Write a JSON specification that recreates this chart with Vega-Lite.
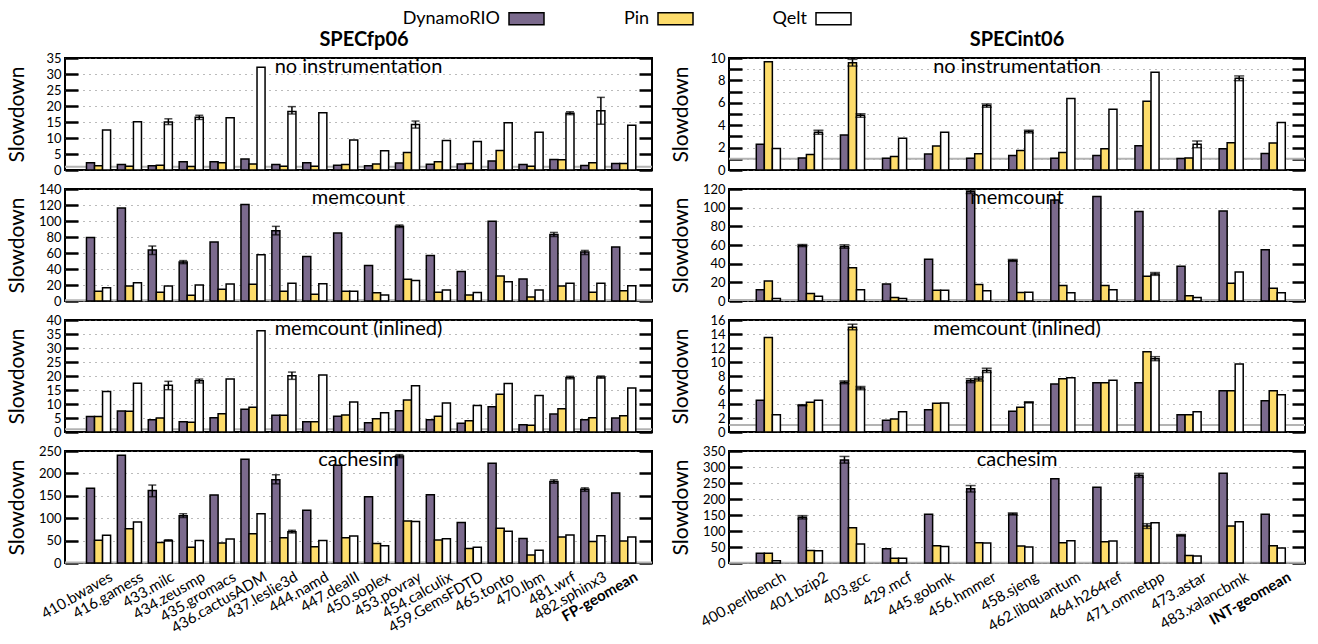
{
"$schema": "https://vega.github.io/schema/vega-lite/v6.json",
"padding": {"left": 5, "right": 5, "top": 0, "bottom": 0},
"config": {
  "font": "Lato",
  "view": {"stroke": "black", "strokeWidth": 2},
  "axis": {"labelColor": "black", "titleColor": "black", "labelFontSize": 13, "tickColor": "black", "tickWidth": 2.5, "tickSize": -13, "domain": false, "gridDash": [1, 5], "gridColor": "#777", "titleFontWeight": "normal", "titleFontSize": 21},
  "title": {"fontSize": 20, "fontWeight": "normal", "anchor": "middle", "frame": "group", "offset": -25, "baseline": "middle", "color": "black"},
  "legend": {"symbolStrokeColor": "black", "symbolStrokeWidth": 1.5, "labelFontSize": 18, "labelColor": "black", "padding": 0}
},
"datasets": {
  "fp": [
    {"panel":"a","bench":"410.bwaves","DynamoRIO":2.3,"Pin":1.3,"Qelt":12.5},
    {"panel":"a","bench":"416.gamess","DynamoRIO":1.7,"Pin":1.2,"Qelt":15.1},
    {"panel":"a","bench":"433.milc","DynamoRIO":1.3,"Pin":1.5,"Qelt":15.0},
    {"panel":"a","bench":"434.zeusmp","DynamoRIO":2.6,"Pin":1.1,"Qelt":16.5},
    {"panel":"a","bench":"435.gromacs","DynamoRIO":2.6,"Pin":2.3,"Qelt":16.3},
    {"panel":"a","bench":"436.cactusADM","DynamoRIO":3.4,"Pin":1.9,"Qelt":32.1},
    {"panel":"a","bench":"437.leslie3d","DynamoRIO":1.7,"Pin":1.2,"Qelt":18.3},
    {"panel":"a","bench":"444.namd","DynamoRIO":2.3,"Pin":1.2,"Qelt":17.9},
    {"panel":"a","bench":"447.dealII","DynamoRIO":1.5,"Pin":1.7,"Qelt":9.4},
    {"panel":"a","bench":"450.soplex","DynamoRIO":1.3,"Pin":1.9,"Qelt":6.0},
    {"panel":"a","bench":"453.povray","DynamoRIO":2.2,"Pin":5.5,"Qelt":14.2},
    {"panel":"a","bench":"454.calculix","DynamoRIO":1.8,"Pin":2.6,"Qelt":9.2},
    {"panel":"a","bench":"459.GemsFDTD","DynamoRIO":1.9,"Pin":2.0,"Qelt":8.9},
    {"panel":"a","bench":"465.tonto","DynamoRIO":2.8,"Pin":6.1,"Qelt":14.8},
    {"panel":"a","bench":"470.lbm","DynamoRIO":1.7,"Pin":1.2,"Qelt":11.8},
    {"panel":"a","bench":"481.wrf","DynamoRIO":3.3,"Pin":3.2,"Qelt":17.7},
    {"panel":"a","bench":"482.sphinx3","DynamoRIO":1.4,"Pin":2.3,"Qelt":18.5},
    {"panel":"a","bench":"FP-geomean","DynamoRIO":2.0,"Pin":2.0,"Qelt":14.0},
    {"panel":"b","bench":"410.bwaves","DynamoRIO":79.3,"Pin":12.3,"Qelt":16.5},
    {"panel":"b","bench":"416.gamess","DynamoRIO":116.3,"Pin":18.7,"Qelt":22.9},
    {"panel":"b","bench":"433.milc","DynamoRIO":63.6,"Pin":11.0,"Qelt":18.7},
    {"panel":"b","bench":"434.zeusmp","DynamoRIO":48.8,"Pin":7.2,"Qelt":19.9},
    {"panel":"b","bench":"435.gromacs","DynamoRIO":73.8,"Pin":14.8,"Qelt":21.2},
    {"panel":"b","bench":"436.cactusADM","DynamoRIO":120.5,"Pin":20.8,"Qelt":57.7},
    {"panel":"b","bench":"437.leslie3d","DynamoRIO":87.8,"Pin":12.3,"Qelt":22.1},
    {"panel":"b","bench":"444.namd","DynamoRIO":55.6,"Pin":8.5,"Qelt":21.6},
    {"panel":"b","bench":"447.dealII","DynamoRIO":84.9,"Pin":12.3,"Qelt":12.3},
    {"panel":"b","bench":"450.soplex","DynamoRIO":44.5,"Pin":10.2,"Qelt":7.6},
    {"panel":"b","bench":"453.povray","DynamoRIO":93.3,"Pin":27.2,"Qelt":25.5},
    {"panel":"b","bench":"454.calculix","DynamoRIO":56.9,"Pin":11.0,"Qelt":13.6},
    {"panel":"b","bench":"459.GemsFDTD","DynamoRIO":36.9,"Pin":7.6,"Qelt":10.6},
    {"panel":"b","bench":"465.tonto","DynamoRIO":99.7,"Pin":31.4,"Qelt":24.2},
    {"panel":"b","bench":"470.lbm","DynamoRIO":27.6,"Pin":5.1,"Qelt":13.6},
    {"panel":"b","bench":"481.wrf","DynamoRIO":83.2,"Pin":18.7,"Qelt":22.1},
    {"panel":"b","bench":"482.sphinx3","DynamoRIO":61.1,"Pin":11.0,"Qelt":22.1},
    {"panel":"b","bench":"FP-geomean","DynamoRIO":67.5,"Pin":12.7,"Qelt":19.1},
    {"panel":"c","bench":"410.bwaves","DynamoRIO":5.5,"Pin":5.5,"Qelt":14.5},
    {"panel":"c","bench":"416.gamess","DynamoRIO":7.5,"Pin":7.4,"Qelt":17.4},
    {"panel":"c","bench":"433.milc","DynamoRIO":4.4,"Pin":5.0,"Qelt":16.7},
    {"panel":"c","bench":"434.zeusmp","DynamoRIO":3.7,"Pin":3.5,"Qelt":18.3},
    {"panel":"c","bench":"435.gromacs","DynamoRIO":5.1,"Pin":6.5,"Qelt":18.9},
    {"panel":"c","bench":"436.cactusADM","DynamoRIO":8.1,"Pin":8.8,"Qelt":36.2},
    {"panel":"c","bench":"437.leslie3d","DynamoRIO":6.0,"Pin":6.0,"Qelt":20.1},
    {"panel":"c","bench":"444.namd","DynamoRIO":3.7,"Pin":3.7,"Qelt":20.4},
    {"panel":"c","bench":"447.dealII","DynamoRIO":5.6,"Pin":6.1,"Qelt":10.7},
    {"panel":"c","bench":"450.soplex","DynamoRIO":3.3,"Pin":4.7,"Qelt":6.9},
    {"panel":"c","bench":"453.povray","DynamoRIO":7.6,"Pin":11.4,"Qelt":16.5},
    {"panel":"c","bench":"454.calculix","DynamoRIO":4.4,"Pin":5.6,"Qelt":10.4},
    {"panel":"c","bench":"459.GemsFDTD","DynamoRIO":3.1,"Pin":4.0,"Qelt":9.5},
    {"panel":"c","bench":"465.tonto","DynamoRIO":9.0,"Pin":13.5,"Qelt":17.3},
    {"panel":"c","bench":"470.lbm","DynamoRIO":2.6,"Pin":2.4,"Qelt":13.0},
    {"panel":"c","bench":"481.wrf","DynamoRIO":6.4,"Pin":8.3,"Qelt":19.5},
    {"panel":"c","bench":"482.sphinx3","DynamoRIO":4.4,"Pin":5.1,"Qelt":19.6},
    {"panel":"c","bench":"FP-geomean","DynamoRIO":5.0,"Pin":5.8,"Qelt":15.7},
    {"panel":"d","bench":"410.bwaves","DynamoRIO":167,"Pin":51,"Qelt":62},
    {"panel":"d","bench":"416.gamess","DynamoRIO":240.6,"Pin":76.7,"Qelt":91.7},
    {"panel":"d","bench":"433.milc","DynamoRIO":161.7,"Pin":45.9,"Qelt":50.4},
    {"panel":"d","bench":"434.zeusmp","DynamoRIO":105.3,"Pin":35.3,"Qelt":50.4},
    {"panel":"d","bench":"435.gromacs","DynamoRIO":151.9,"Pin":44.4,"Qelt":53.4},
    {"panel":"d","bench":"436.cactusADM","DynamoRIO":231.6,"Pin":65.4,"Qelt":109.8},
    {"panel":"d","bench":"437.leslie3d","DynamoRIO":185.7,"Pin":56.4,"Qelt":70},
    {"panel":"d","bench":"444.namd","DynamoRIO":118,"Pin":36.1,"Qelt":50.4},
    {"panel":"d","bench":"447.dealII","DynamoRIO":218,"Pin":56.4,"Qelt":60.2},
    {"panel":"d","bench":"450.soplex","DynamoRIO":148,"Pin":43.6,"Qelt":38.3},
    {"panel":"d","bench":"453.povray","DynamoRIO":239,"Pin":94,"Qelt":92.5},
    {"panel":"d","bench":"454.calculix","DynamoRIO":152.6,"Pin":51.1,"Qelt":54.1},
    {"panel":"d","bench":"459.GemsFDTD","DynamoRIO":90.2,"Pin":32.3,"Qelt":35.3},
    {"panel":"d","bench":"465.tonto","DynamoRIO":222.6,"Pin":77.4,"Qelt":70.7},
    {"panel":"d","bench":"470.lbm","DynamoRIO":54.9,"Pin":18,"Qelt":28.6},
    {"panel":"d","bench":"481.wrf","DynamoRIO":182,"Pin":57.9,"Qelt":62.4},
    {"panel":"d","bench":"482.sphinx3","DynamoRIO":164.7,"Pin":48.1,"Qelt":60.9},
    {"panel":"d","bench":"FP-geomean","DynamoRIO":156.4,"Pin":48.9,"Qelt":57.9}
  ],
  "fpe": [
    {"panel":"a","bench":"433.milc","tool":"Qelt","lo":14.2,"hi":16.0},
    {"panel":"a","bench":"434.zeusmp","tool":"Qelt","lo":15.8,"hi":17.1},
    {"panel":"a","bench":"437.leslie3d","tool":"Qelt","lo":17.5,"hi":19.8},
    {"panel":"a","bench":"453.povray","tool":"Qelt","lo":13.1,"hi":15.3},
    {"panel":"a","bench":"481.wrf","tool":"Qelt","lo":17.3,"hi":18.2},
    {"panel":"a","bench":"482.sphinx3","tool":"Qelt","lo":14.3,"hi":22.7},
    {"panel":"b","bench":"433.milc","tool":"DynamoRIO","lo":58.1,"hi":68.7},
    {"panel":"b","bench":"434.zeusmp","tool":"DynamoRIO","lo":46.7,"hi":50.5},
    {"panel":"b","bench":"437.leslie3d","tool":"DynamoRIO","lo":82.7,"hi":93.3},
    {"panel":"b","bench":"453.povray","tool":"DynamoRIO","lo":92,"hi":95},
    {"panel":"b","bench":"481.wrf","tool":"DynamoRIO","lo":80.6,"hi":85.7},
    {"panel":"b","bench":"482.sphinx3","tool":"DynamoRIO","lo":58.1,"hi":63.2},
    {"panel":"c","bench":"433.milc","tool":"Qelt","lo":15.1,"hi":18.1},
    {"panel":"c","bench":"434.zeusmp","tool":"Qelt","lo":17.5,"hi":18.9},
    {"panel":"c","bench":"437.leslie3d","tool":"Qelt","lo":18.8,"hi":21.4},
    {"panel":"c","bench":"481.wrf","tool":"Qelt","lo":19.0,"hi":19.9},
    {"panel":"c","bench":"482.sphinx3","tool":"Qelt","lo":19.2,"hi":20.0},
    {"panel":"d","bench":"433.milc","tool":"DynamoRIO","lo":148,"hi":174},
    {"panel":"d","bench":"433.milc","tool":"Qelt","lo":48.9,"hi":51.9},
    {"panel":"d","bench":"434.zeusmp","tool":"DynamoRIO","lo":101.5,"hi":110},
    {"panel":"d","bench":"437.leslie3d","tool":"DynamoRIO","lo":176.7,"hi":197},
    {"panel":"d","bench":"437.leslie3d","tool":"Qelt","lo":67,"hi":73},
    {"panel":"d","bench":"453.povray","tool":"DynamoRIO","lo":235,"hi":242},
    {"panel":"d","bench":"481.wrf","tool":"DynamoRIO","lo":178,"hi":185.7},
    {"panel":"d","bench":"482.sphinx3","tool":"DynamoRIO","lo":160,"hi":167.7}
  ],
  "int": [
    {"panel":"a","bench":"400.perlbench","DynamoRIO":2.3,"Pin":9.67,"Qelt":1.93},
    {"panel":"a","bench":"401.bzip2","DynamoRIO":1.08,"Pin":1.39,"Qelt":3.37},
    {"panel":"a","bench":"403.gcc","DynamoRIO":3.13,"Pin":9.58,"Qelt":4.88},
    {"panel":"a","bench":"429.mcf","DynamoRIO":1.05,"Pin":1.2,"Qelt":2.83},
    {"panel":"a","bench":"445.gobmk","DynamoRIO":1.42,"Pin":2.14,"Qelt":3.37},
    {"panel":"a","bench":"456.hmmer","DynamoRIO":1.05,"Pin":1.45,"Qelt":5.75},
    {"panel":"a","bench":"458.sjeng","DynamoRIO":1.3,"Pin":1.75,"Qelt":3.43},
    {"panel":"a","bench":"462.libquantum","DynamoRIO":1.05,"Pin":1.57,"Qelt":6.39},
    {"panel":"a","bench":"464.h264ref","DynamoRIO":1.3,"Pin":1.9,"Qelt":5.42},
    {"panel":"a","bench":"471.omnetpp","DynamoRIO":2.17,"Pin":6.14,"Qelt":8.73},
    {"panel":"a","bench":"473.astar","DynamoRIO":1.02,"Pin":1.08,"Qelt":2.29},
    {"panel":"a","bench":"483.xalancbmk","DynamoRIO":1.9,"Pin":2.44,"Qelt":8.19},
    {"panel":"a","bench":"INT-geomean","DynamoRIO":1.48,"Pin":2.41,"Qelt":4.25},
    {"panel":"b","bench":"400.perlbench","DynamoRIO":12.1,"Pin":21.3,"Qelt":2.6},
    {"panel":"b","bench":"401.bzip2","DynamoRIO":59.4,"Pin":8.1,"Qelt":5.1},
    {"panel":"b","bench":"403.gcc","DynamoRIO":58.3,"Pin":35.6,"Qelt":12.1},
    {"panel":"b","bench":"429.mcf","DynamoRIO":18.3,"Pin":3.7,"Qelt":2.6},
    {"panel":"b","bench":"445.gobmk","DynamoRIO":44.8,"Pin":11.4,"Qelt":11.4},
    {"panel":"b","bench":"456.hmmer","DynamoRIO":117.4,"Pin":17.6,"Qelt":11.0},
    {"panel":"b","bench":"458.sjeng","DynamoRIO":43.3,"Pin":9.2,"Qelt":9.5},
    {"panel":"b","bench":"462.libquantum","DynamoRIO":108.3,"Pin":16.5,"Qelt":8.8},
    {"panel":"b","bench":"464.h264ref","DynamoRIO":111.9,"Pin":16.5,"Qelt":12.1},
    {"panel":"b","bench":"471.omnetpp","DynamoRIO":95.8,"Pin":26.4,"Qelt":29.0},
    {"panel":"b","bench":"473.astar","DynamoRIO":37.1,"Pin":5.5,"Qelt":3.7},
    {"panel":"b","bench":"483.xalancbmk","DynamoRIO":96.5,"Pin":19.1,"Qelt":31.2},
    {"panel":"b","bench":"INT-geomean","DynamoRIO":55.0,"Pin":13.6,"Qelt":8.8},
    {"panel":"c","bench":"400.perlbench","DynamoRIO":4.52,"Pin":13.5,"Qelt":2.48},
    {"panel":"c","bench":"401.bzip2","DynamoRIO":3.81,"Pin":4.24,"Qelt":4.52},
    {"panel":"c","bench":"403.gcc","DynamoRIO":7.1,"Pin":14.95,"Qelt":6.29},
    {"panel":"c","bench":"429.mcf","DynamoRIO":1.67,"Pin":1.86,"Qelt":2.9},
    {"panel":"c","bench":"445.gobmk","DynamoRIO":3.19,"Pin":4.1,"Qelt":4.14},
    {"panel":"c","bench":"456.hmmer","DynamoRIO":7.33,"Pin":7.57,"Qelt":8.8},
    {"panel":"c","bench":"458.sjeng","DynamoRIO":2.95,"Pin":3.52,"Qelt":4.24},
    {"panel":"c","bench":"462.libquantum","DynamoRIO":6.86,"Pin":7.62,"Qelt":7.76},
    {"panel":"c","bench":"464.h264ref","DynamoRIO":7.05,"Pin":7.05,"Qelt":7.38},
    {"panel":"c","bench":"471.omnetpp","DynamoRIO":7.05,"Pin":11.48,"Qelt":10.48},
    {"panel":"c","bench":"473.astar","DynamoRIO":2.48,"Pin":2.48,"Qelt":2.9},
    {"panel":"c","bench":"483.xalancbmk","DynamoRIO":5.9,"Pin":5.9,"Qelt":9.71},
    {"panel":"c","bench":"INT-geomean","DynamoRIO":4.48,"Pin":5.9,"Qelt":5.33},
    {"panel":"d","bench":"400.perlbench","DynamoRIO":30.7,"Pin":30.7,"Qelt":7.4},
    {"panel":"d","bench":"401.bzip2","DynamoRIO":142.9,"Pin":39.2,"Qelt":38.1},
    {"panel":"d","bench":"403.gcc","DynamoRIO":321.7,"Pin":110,"Qelt":59.3},
    {"panel":"d","bench":"429.mcf","DynamoRIO":44.4,"Pin":14.8,"Qelt":14.8},
    {"panel":"d","bench":"445.gobmk","DynamoRIO":152.4,"Pin":54,"Qelt":51.9},
    {"panel":"d","bench":"456.hmmer","DynamoRIO":231.7,"Pin":63.5,"Qelt":62.4},
    {"panel":"d","bench":"458.sjeng","DynamoRIO":153.4,"Pin":52.9,"Qelt":49.7},
    {"panel":"d","bench":"462.libquantum","DynamoRIO":263.5,"Pin":63.5,"Qelt":69.8},
    {"panel":"d","bench":"464.h264ref","DynamoRIO":237,"Pin":66.7,"Qelt":68.8},
    {"panel":"d","bench":"471.omnetpp","DynamoRIO":274,"Pin":115.3,"Qelt":125.9},
    {"panel":"d","bench":"473.astar","DynamoRIO":86.8,"Pin":23.3,"Qelt":22.2},
    {"panel":"d","bench":"483.xalancbmk","DynamoRIO":280.4,"Pin":115.3,"Qelt":129},
    {"panel":"d","bench":"INT-geomean","DynamoRIO":152.4,"Pin":54,"Qelt":46.6}
  ],
  "inte": [
    {"panel":"a","bench":"401.bzip2","tool":"Qelt","lo":3.19,"hi":3.55},
    {"panel":"a","bench":"403.gcc","tool":"Pin","lo":9.28,"hi":9.88},
    {"panel":"a","bench":"403.gcc","tool":"Qelt","lo":4.7,"hi":5.03},
    {"panel":"a","bench":"456.hmmer","tool":"Qelt","lo":5.6,"hi":5.9},
    {"panel":"a","bench":"458.sjeng","tool":"Qelt","lo":3.31,"hi":3.55},
    {"panel":"a","bench":"473.astar","tool":"Qelt","lo":1.99,"hi":2.59},
    {"panel":"a","bench":"483.xalancbmk","tool":"Qelt","lo":7.98,"hi":8.4},
    {"panel":"b","bench":"401.bzip2","tool":"DynamoRIO","lo":58.3,"hi":60.5},
    {"panel":"b","bench":"403.gcc","tool":"DynamoRIO","lo":56.5,"hi":60.2},
    {"panel":"b","bench":"456.hmmer","tool":"DynamoRIO","lo":115.2,"hi":118.9},
    {"panel":"b","bench":"458.sjeng","tool":"DynamoRIO","lo":42.5,"hi":44.5},
    {"panel":"b","bench":"471.omnetpp","tool":"Qelt","lo":27.5,"hi":30.5},
    {"panel":"c","bench":"401.bzip2","tool":"DynamoRIO","lo":3.75,"hi":3.9},
    {"panel":"c","bench":"403.gcc","tool":"DynamoRIO","lo":6.9,"hi":7.3},
    {"panel":"c","bench":"403.gcc","tool":"Pin","lo":14.6,"hi":15.4},
    {"panel":"c","bench":"403.gcc","tool":"Qelt","lo":6.05,"hi":6.5},
    {"panel":"c","bench":"456.hmmer","tool":"DynamoRIO","lo":7.05,"hi":7.6},
    {"panel":"c","bench":"456.hmmer","tool":"Pin","lo":7.29,"hi":7.86},
    {"panel":"c","bench":"456.hmmer","tool":"Qelt","lo":8.5,"hi":9.1},
    {"panel":"c","bench":"458.sjeng","tool":"Qelt","lo":4.15,"hi":4.3},
    {"panel":"c","bench":"471.omnetpp","tool":"Qelt","lo":10.19,"hi":10.76},
    {"panel":"d","bench":"401.bzip2","tool":"DynamoRIO","lo":137.6,"hi":148},
    {"panel":"d","bench":"403.gcc","tool":"DynamoRIO","lo":312,"hi":333},
    {"panel":"d","bench":"456.hmmer","tool":"DynamoRIO","lo":222,"hi":242},
    {"panel":"d","bench":"458.sjeng","tool":"DynamoRIO","lo":150,"hi":156.6},
    {"panel":"d","bench":"471.omnetpp","tool":"DynamoRIO","lo":267.7,"hi":280},
    {"panel":"d","bench":"471.omnetpp","tool":"Pin","lo":108,"hi":122.8},
    {"panel":"d","bench":"473.astar","tool":"DynamoRIO","lo":84,"hi":89}
  ]
},
"spacing": 14,
"resolve": {"scale": {"x": "independent", "y": "independent", "color": "shared"}},
"hconcat": [
 {
  "title": {"text": "SPECfp06", "fontWeight": "bold", "anchor": "middle", "offset": -19, "baseline": "bottom", "dx": 299},
  "spacing": 4,
  "resolve": {"scale": {"x": "independent", "y": "independent"}},
  "vconcat": [
   {
    "width": 587, "height": 112,
    "title": {"text": "no instrumentation"},
    "resolve": {"axis": {"y": "independent"}},
    "layer": [
     {"data": {"values": [{"one": 1}]}, "mark": {"type": "rule", "color": "#b3b3b3", "strokeWidth": 2},
      "encoding": {"y": {"field": "one", "type": "quantitative", "scale": {"domain": [0, 35], "nice": false},
        "axis": {"orient": "left", "values": [0,5,10,15,20,25,30,35], "title": "Slowdown", "titlePadding": 6, "labelPadding": 17, "grid": true, "minExtent": 32, "maxExtent": 32}}}},
     {"data": {"name": "fp"}, "transform": [{"filter": "datum.panel == 'a'"}, {"fold": ["DynamoRIO", "Pin", "Qelt"], "as": ["tool", "slowdown"]}],
      "mark": {"type": "bar", "stroke": "black", "strokeWidth": 1.5},
      "encoding": {
        "x": {"field": "bench", "type": "nominal", "scale": {"domain": ["410.bwaves","416.gamess","433.milc","434.zeusmp","435.gromacs","436.cactusADM","437.leslie3d","444.namd","447.dealII","450.soplex","453.povray","454.calculix","459.GemsFDTD","465.tonto","470.lbm","481.wrf","482.sphinx3","FP-geomean"], "paddingInner": 0.22, "paddingOuter": 0.61, "align": 0.57}, "axis": null},
        "xOffset": {"field": "tool", "type": "nominal", "scale": {"domain": ["DynamoRIO", "Pin", "Qelt"], "paddingInner": 0, "paddingOuter": 0}},
        "y": {"field": "slowdown", "type": "quantitative", "scale": {"domain": [0, 35], "nice": false}, "axis": {"orient": "right", "values": [0,5,10,15,20,25,30,35], "labels": false, "grid": false, "title": null, "minExtent": 0, "maxExtent": 0}},
        "color": {"field": "tool", "type": "nominal", "scale": {"domain": ["DynamoRIO", "Pin", "Qelt"], "range": ["#7b6a8d", "#fddc6b", "#ffffff"]},
          "legend": {"title": null, "orient": "none", "legendX": 443, "legendY": -58, "direction": "horizontal", "symbolType": "M-1,-0.34H1V0.34H-1Z", "symbolSize": 1225, "labelAlign": "right", "labelOffset": -45, "columnPadding": 76}}
      }},
     {"data": {"name": "fpe"}, "transform": [{"filter": "datum.panel == 'a'"}],
      "mark": {"type": "rule", "color": "black", "strokeWidth": 1.5},
      "encoding": {
        "x": {"field": "bench", "type": "nominal", "scale": {"domain": ["410.bwaves","416.gamess","433.milc","434.zeusmp","435.gromacs","436.cactusADM","437.leslie3d","444.namd","447.dealII","450.soplex","453.povray","454.calculix","459.GemsFDTD","465.tonto","470.lbm","481.wrf","482.sphinx3","FP-geomean"], "paddingInner": 0.22, "paddingOuter": 0.61, "align": 0.57}, "axis": null},
        "xOffset": {"field": "tool", "type": "nominal", "scale": {"domain": ["DynamoRIO", "Pin", "Qelt"], "paddingInner": 0, "paddingOuter": 0}},
        "y": {"field": "lo", "type": "quantitative", "scale": {"domain": [0, 35], "nice": false}, "axis": null},
        "y2": {"field": "hi"}
      }},
     {"data": {"name": "fpe"}, "transform": [{"filter": "datum.panel == 'a'"}, {"fold": ["lo", "hi"], "as": ["k", "ev"]}],
      "mark": {"type": "tick", "color": "black", "thickness": 1.5, "size": 8, "orient": "horizontal"},
      "encoding": {
        "x": {"field": "bench", "type": "nominal", "scale": {"domain": ["410.bwaves","416.gamess","433.milc","434.zeusmp","435.gromacs","436.cactusADM","437.leslie3d","444.namd","447.dealII","450.soplex","453.povray","454.calculix","459.GemsFDTD","465.tonto","470.lbm","481.wrf","482.sphinx3","FP-geomean"], "paddingInner": 0.22, "paddingOuter": 0.61, "align": 0.57}, "axis": null},
        "xOffset": {"field": "tool", "type": "nominal", "scale": {"domain": ["DynamoRIO", "Pin", "Qelt"], "paddingInner": 0, "paddingOuter": 0}},
        "y": {"field": "ev", "type": "quantitative", "scale": {"domain": [0, 35], "nice": false}, "axis": null}
      }}
    ]
   },
   {
    "width": 587, "height": 112,
    "title": {"text": "memcount"},
    "resolve": {"axis": {"y": "independent"}},
    "layer": [
     {"data": {"values": [{"one": 1}]}, "mark": {"type": "rule", "color": "#b3b3b3", "strokeWidth": 2},
      "encoding": {"y": {"field": "one", "type": "quantitative", "scale": {"domain": [0, 140], "nice": false},
        "axis": {"orient": "left", "values": [0,20,40,60,80,100,120,140], "title": "Slowdown", "titlePadding": 6, "labelPadding": 17, "grid": true, "minExtent": 32, "maxExtent": 32}}}},
     {"data": {"name": "fp"}, "transform": [{"filter": "datum.panel == 'b'"}, {"fold": ["DynamoRIO", "Pin", "Qelt"], "as": ["tool", "slowdown"]}],
      "mark": {"type": "bar", "stroke": "black", "strokeWidth": 1.5},
      "encoding": {
        "x": {"field": "bench", "type": "nominal", "scale": {"domain": ["410.bwaves","416.gamess","433.milc","434.zeusmp","435.gromacs","436.cactusADM","437.leslie3d","444.namd","447.dealII","450.soplex","453.povray","454.calculix","459.GemsFDTD","465.tonto","470.lbm","481.wrf","482.sphinx3","FP-geomean"], "paddingInner": 0.22, "paddingOuter": 0.61, "align": 0.57}, "axis": null},
        "xOffset": {"field": "tool", "type": "nominal", "scale": {"domain": ["DynamoRIO", "Pin", "Qelt"], "paddingInner": 0, "paddingOuter": 0}},
        "y": {"field": "slowdown", "type": "quantitative", "scale": {"domain": [0, 140], "nice": false}, "axis": {"orient": "right", "values": [0,20,40,60,80,100,120,140], "labels": false, "grid": false, "title": null, "minExtent": 0, "maxExtent": 0}},
        "color": {"field": "tool", "type": "nominal", "scale": {"domain": ["DynamoRIO", "Pin", "Qelt"], "range": ["#7b6a8d", "#fddc6b", "#ffffff"]}}
      }},
     {"data": {"name": "fpe"}, "transform": [{"filter": "datum.panel == 'b'"}],
      "mark": {"type": "rule", "color": "black", "strokeWidth": 1.5},
      "encoding": {
        "x": {"field": "bench", "type": "nominal", "scale": {"domain": ["410.bwaves","416.gamess","433.milc","434.zeusmp","435.gromacs","436.cactusADM","437.leslie3d","444.namd","447.dealII","450.soplex","453.povray","454.calculix","459.GemsFDTD","465.tonto","470.lbm","481.wrf","482.sphinx3","FP-geomean"], "paddingInner": 0.22, "paddingOuter": 0.61, "align": 0.57}, "axis": null},
        "xOffset": {"field": "tool", "type": "nominal", "scale": {"domain": ["DynamoRIO", "Pin", "Qelt"], "paddingInner": 0, "paddingOuter": 0}},
        "y": {"field": "lo", "type": "quantitative", "scale": {"domain": [0, 140], "nice": false}, "axis": null},
        "y2": {"field": "hi"}
      }},
     {"data": {"name": "fpe"}, "transform": [{"filter": "datum.panel == 'b'"}, {"fold": ["lo", "hi"], "as": ["k", "ev"]}],
      "mark": {"type": "tick", "color": "black", "thickness": 1.5, "size": 8, "orient": "horizontal"},
      "encoding": {
        "x": {"field": "bench", "type": "nominal", "scale": {"domain": ["410.bwaves","416.gamess","433.milc","434.zeusmp","435.gromacs","436.cactusADM","437.leslie3d","444.namd","447.dealII","450.soplex","453.povray","454.calculix","459.GemsFDTD","465.tonto","470.lbm","481.wrf","482.sphinx3","FP-geomean"], "paddingInner": 0.22, "paddingOuter": 0.61, "align": 0.57}, "axis": null},
        "xOffset": {"field": "tool", "type": "nominal", "scale": {"domain": ["DynamoRIO", "Pin", "Qelt"], "paddingInner": 0, "paddingOuter": 0}},
        "y": {"field": "ev", "type": "quantitative", "scale": {"domain": [0, 140], "nice": false}, "axis": null}
      }}
    ]
   },
   {
    "width": 587, "height": 112,
    "title": {"text": "memcount (inlined)"},
    "resolve": {"axis": {"y": "independent"}},
    "layer": [
     {"data": {"values": [{"one": 1}]}, "mark": {"type": "rule", "color": "#b3b3b3", "strokeWidth": 2},
      "encoding": {"y": {"field": "one", "type": "quantitative", "scale": {"domain": [0, 40], "nice": false},
        "axis": {"orient": "left", "values": [0,5,10,15,20,25,30,35,40], "title": "Slowdown", "titlePadding": 6, "labelPadding": 17, "grid": true, "minExtent": 32, "maxExtent": 32}}}},
     {"data": {"name": "fp"}, "transform": [{"filter": "datum.panel == 'c'"}, {"fold": ["DynamoRIO", "Pin", "Qelt"], "as": ["tool", "slowdown"]}],
      "mark": {"type": "bar", "stroke": "black", "strokeWidth": 1.5},
      "encoding": {
        "x": {"field": "bench", "type": "nominal", "scale": {"domain": ["410.bwaves","416.gamess","433.milc","434.zeusmp","435.gromacs","436.cactusADM","437.leslie3d","444.namd","447.dealII","450.soplex","453.povray","454.calculix","459.GemsFDTD","465.tonto","470.lbm","481.wrf","482.sphinx3","FP-geomean"], "paddingInner": 0.22, "paddingOuter": 0.61, "align": 0.57}, "axis": null},
        "xOffset": {"field": "tool", "type": "nominal", "scale": {"domain": ["DynamoRIO", "Pin", "Qelt"], "paddingInner": 0, "paddingOuter": 0}},
        "y": {"field": "slowdown", "type": "quantitative", "scale": {"domain": [0, 40], "nice": false}, "axis": {"orient": "right", "values": [0,5,10,15,20,25,30,35,40], "labels": false, "grid": false, "title": null, "minExtent": 0, "maxExtent": 0}},
        "color": {"field": "tool", "type": "nominal", "scale": {"domain": ["DynamoRIO", "Pin", "Qelt"], "range": ["#7b6a8d", "#fddc6b", "#ffffff"]}}
      }},
     {"data": {"name": "fpe"}, "transform": [{"filter": "datum.panel == 'c'"}],
      "mark": {"type": "rule", "color": "black", "strokeWidth": 1.5},
      "encoding": {
        "x": {"field": "bench", "type": "nominal", "scale": {"domain": ["410.bwaves","416.gamess","433.milc","434.zeusmp","435.gromacs","436.cactusADM","437.leslie3d","444.namd","447.dealII","450.soplex","453.povray","454.calculix","459.GemsFDTD","465.tonto","470.lbm","481.wrf","482.sphinx3","FP-geomean"], "paddingInner": 0.22, "paddingOuter": 0.61, "align": 0.57}, "axis": null},
        "xOffset": {"field": "tool", "type": "nominal", "scale": {"domain": ["DynamoRIO", "Pin", "Qelt"], "paddingInner": 0, "paddingOuter": 0}},
        "y": {"field": "lo", "type": "quantitative", "scale": {"domain": [0, 40], "nice": false}, "axis": null},
        "y2": {"field": "hi"}
      }},
     {"data": {"name": "fpe"}, "transform": [{"filter": "datum.panel == 'c'"}, {"fold": ["lo", "hi"], "as": ["k", "ev"]}],
      "mark": {"type": "tick", "color": "black", "thickness": 1.5, "size": 8, "orient": "horizontal"},
      "encoding": {
        "x": {"field": "bench", "type": "nominal", "scale": {"domain": ["410.bwaves","416.gamess","433.milc","434.zeusmp","435.gromacs","436.cactusADM","437.leslie3d","444.namd","447.dealII","450.soplex","453.povray","454.calculix","459.GemsFDTD","465.tonto","470.lbm","481.wrf","482.sphinx3","FP-geomean"], "paddingInner": 0.22, "paddingOuter": 0.61, "align": 0.57}, "axis": null},
        "xOffset": {"field": "tool", "type": "nominal", "scale": {"domain": ["DynamoRIO", "Pin", "Qelt"], "paddingInner": 0, "paddingOuter": 0}},
        "y": {"field": "ev", "type": "quantitative", "scale": {"domain": [0, 40], "nice": false}, "axis": null}
      }}
    ]
   },
   {
    "width": 587, "height": 112,
    "title": {"text": "cachesim"},
    "resolve": {"axis": {"y": "independent"}},
    "layer": [
     {"data": {"values": [{"one": 1}]}, "mark": {"type": "rule", "color": "#b3b3b3", "strokeWidth": 2},
      "encoding": {"y": {"field": "one", "type": "quantitative", "scale": {"domain": [0, 250], "nice": false},
        "axis": {"orient": "left", "values": [0,50,100,150,200,250], "title": "Slowdown", "titlePadding": 6, "labelPadding": 17, "grid": true, "minExtent": 32, "maxExtent": 32}}}},
     {"data": {"name": "fp"}, "transform": [{"filter": "datum.panel == 'd'"}, {"fold": ["DynamoRIO", "Pin", "Qelt"], "as": ["tool", "slowdown"]}],
      "mark": {"type": "bar", "stroke": "black", "strokeWidth": 1.5},
      "encoding": {
        "x": {"field": "bench", "type": "nominal", "scale": {"domain": ["410.bwaves","416.gamess","433.milc","434.zeusmp","435.gromacs","436.cactusADM","437.leslie3d","444.namd","447.dealII","450.soplex","453.povray","454.calculix","459.GemsFDTD","465.tonto","470.lbm","481.wrf","482.sphinx3","FP-geomean"], "paddingInner": 0.22, "paddingOuter": 0.61, "align": 0.57},
          "axis": {"title": null, "ticks": false, "labelAngle": -30, "labelFontSize": 15, "labelPadding": 6, "labelOffset": 9, "labelFontWeight": {"condition": {"test": "indexof(datum.value, 'geomean') >= 0", "value": "bold"}, "value": "normal"}}},
        "xOffset": {"field": "tool", "type": "nominal", "scale": {"domain": ["DynamoRIO", "Pin", "Qelt"], "paddingInner": 0, "paddingOuter": 0}},
        "y": {"field": "slowdown", "type": "quantitative", "scale": {"domain": [0, 250], "nice": false}, "axis": {"orient": "right", "values": [0,50,100,150,200,250], "labels": false, "grid": false, "title": null, "minExtent": 0, "maxExtent": 0}},
        "color": {"field": "tool", "type": "nominal", "scale": {"domain": ["DynamoRIO", "Pin", "Qelt"], "range": ["#7b6a8d", "#fddc6b", "#ffffff"]}}
      }},
     {"data": {"name": "fpe"}, "transform": [{"filter": "datum.panel == 'd'"}],
      "mark": {"type": "rule", "color": "black", "strokeWidth": 1.5},
      "encoding": {
        "x": {"field": "bench", "type": "nominal", "scale": {"domain": ["410.bwaves","416.gamess","433.milc","434.zeusmp","435.gromacs","436.cactusADM","437.leslie3d","444.namd","447.dealII","450.soplex","453.povray","454.calculix","459.GemsFDTD","465.tonto","470.lbm","481.wrf","482.sphinx3","FP-geomean"], "paddingInner": 0.22, "paddingOuter": 0.61, "align": 0.57}},
        "xOffset": {"field": "tool", "type": "nominal", "scale": {"domain": ["DynamoRIO", "Pin", "Qelt"], "paddingInner": 0, "paddingOuter": 0}},
        "y": {"field": "lo", "type": "quantitative", "scale": {"domain": [0, 250], "nice": false}, "axis": null},
        "y2": {"field": "hi"}
      }},
     {"data": {"name": "fpe"}, "transform": [{"filter": "datum.panel == 'd'"}, {"fold": ["lo", "hi"], "as": ["k", "ev"]}],
      "mark": {"type": "tick", "color": "black", "thickness": 1.5, "size": 8, "orient": "horizontal"},
      "encoding": {
        "x": {"field": "bench", "type": "nominal", "scale": {"domain": ["410.bwaves","416.gamess","433.milc","434.zeusmp","435.gromacs","436.cactusADM","437.leslie3d","444.namd","447.dealII","450.soplex","453.povray","454.calculix","459.GemsFDTD","465.tonto","470.lbm","481.wrf","482.sphinx3","FP-geomean"], "paddingInner": 0.22, "paddingOuter": 0.61, "align": 0.57}},
        "xOffset": {"field": "tool", "type": "nominal", "scale": {"domain": ["DynamoRIO", "Pin", "Qelt"], "paddingInner": 0, "paddingOuter": 0}},
        "y": {"field": "ev", "type": "quantitative", "scale": {"domain": [0, 250], "nice": false}, "axis": null}
      }}
    ]
   }
  ]
 },
 {
  "title": {"text": "SPECint06", "fontWeight": "bold", "anchor": "middle", "offset": -19, "baseline": "bottom", "dx": 288},
  "spacing": 4,
  "resolve": {"scale": {"x": "independent", "y": "independent"}},
  "vconcat": [
   {
    "width": 576, "height": 112,
    "title": {"text": "no instrumentation"},
    "resolve": {"axis": {"y": "independent"}},
    "layer": [
     {"data": {"values": [{"one": 1}]}, "mark": {"type": "rule", "color": "#b3b3b3", "strokeWidth": 2},
      "encoding": {"y": {"field": "one", "type": "quantitative", "scale": {"domain": [0, 10], "nice": false},
        "axis": {"orient": "left", "values": [0,1,2,3,4,5,6,7,8,9,10], "title": "Slowdown", "titlePadding": 6, "labelPadding": 17, "grid": true, "minExtent": 32, "maxExtent": 32}}}},
     {"data": {"name": "int"}, "transform": [{"filter": "datum.panel == 'a'"}, {"fold": ["DynamoRIO", "Pin", "Qelt"], "as": ["tool", "slowdown"]}],
      "mark": {"type": "bar", "stroke": "black", "strokeWidth": 1.5},
      "encoding": {
        "x": {"field": "bench", "type": "nominal", "scale": {"domain": ["400.perlbench","401.bzip2","403.gcc","429.mcf","445.gobmk","456.hmmer","458.sjeng","462.libquantum","464.h264ref","471.omnetpp","473.astar","483.xalancbmk","INT-geomean"], "paddingInner": 0.25, "paddingOuter": 0.47, "align": 0.69}, "axis": null},
        "xOffset": {"field": "tool", "type": "nominal", "scale": {"domain": ["DynamoRIO", "Pin", "Qelt"], "paddingInner": 0, "paddingOuter": 0}},
        "y": {"field": "slowdown", "type": "quantitative", "scale": {"domain": [0, 10], "nice": false}, "axis": {"orient": "right", "values": [0,1,2,3,4,5,6,7,8,9,10], "labels": false, "grid": false, "title": null, "minExtent": 0, "maxExtent": 0}},
        "color": {"field": "tool", "type": "nominal", "scale": {"domain": ["DynamoRIO", "Pin", "Qelt"], "range": ["#7b6a8d", "#fddc6b", "#ffffff"]}}
      }},
     {"data": {"name": "inte"}, "transform": [{"filter": "datum.panel == 'a'"}],
      "mark": {"type": "rule", "color": "black", "strokeWidth": 1.5},
      "encoding": {
        "x": {"field": "bench", "type": "nominal", "scale": {"domain": ["400.perlbench","401.bzip2","403.gcc","429.mcf","445.gobmk","456.hmmer","458.sjeng","462.libquantum","464.h264ref","471.omnetpp","473.astar","483.xalancbmk","INT-geomean"], "paddingInner": 0.25, "paddingOuter": 0.47, "align": 0.69}, "axis": null},
        "xOffset": {"field": "tool", "type": "nominal", "scale": {"domain": ["DynamoRIO", "Pin", "Qelt"], "paddingInner": 0, "paddingOuter": 0}},
        "y": {"field": "lo", "type": "quantitative", "scale": {"domain": [0, 10], "nice": false}, "axis": null},
        "y2": {"field": "hi"}
      }},
     {"data": {"name": "inte"}, "transform": [{"filter": "datum.panel == 'a'"}, {"fold": ["lo", "hi"], "as": ["k", "ev"]}],
      "mark": {"type": "tick", "color": "black", "thickness": 1.5, "size": 10, "orient": "horizontal"},
      "encoding": {
        "x": {"field": "bench", "type": "nominal", "scale": {"domain": ["400.perlbench","401.bzip2","403.gcc","429.mcf","445.gobmk","456.hmmer","458.sjeng","462.libquantum","464.h264ref","471.omnetpp","473.astar","483.xalancbmk","INT-geomean"], "paddingInner": 0.25, "paddingOuter": 0.47, "align": 0.69}, "axis": null},
        "xOffset": {"field": "tool", "type": "nominal", "scale": {"domain": ["DynamoRIO", "Pin", "Qelt"], "paddingInner": 0, "paddingOuter": 0}},
        "y": {"field": "ev", "type": "quantitative", "scale": {"domain": [0, 10], "nice": false}, "axis": null}
      }}
    ]
   },
   {
    "width": 576, "height": 112,
    "title": {"text": "memcount"},
    "resolve": {"axis": {"y": "independent"}},
    "layer": [
     {"data": {"values": [{"one": 1}]}, "mark": {"type": "rule", "color": "#b3b3b3", "strokeWidth": 2},
      "encoding": {"y": {"field": "one", "type": "quantitative", "scale": {"domain": [0, 120], "nice": false},
        "axis": {"orient": "left", "values": [0,20,40,60,80,100,120], "title": "Slowdown", "titlePadding": 6, "labelPadding": 17, "grid": true, "minExtent": 32, "maxExtent": 32}}}},
     {"data": {"name": "int"}, "transform": [{"filter": "datum.panel == 'b'"}, {"fold": ["DynamoRIO", "Pin", "Qelt"], "as": ["tool", "slowdown"]}],
      "mark": {"type": "bar", "stroke": "black", "strokeWidth": 1.5},
      "encoding": {
        "x": {"field": "bench", "type": "nominal", "scale": {"domain": ["400.perlbench","401.bzip2","403.gcc","429.mcf","445.gobmk","456.hmmer","458.sjeng","462.libquantum","464.h264ref","471.omnetpp","473.astar","483.xalancbmk","INT-geomean"], "paddingInner": 0.25, "paddingOuter": 0.47, "align": 0.69}, "axis": null},
        "xOffset": {"field": "tool", "type": "nominal", "scale": {"domain": ["DynamoRIO", "Pin", "Qelt"], "paddingInner": 0, "paddingOuter": 0}},
        "y": {"field": "slowdown", "type": "quantitative", "scale": {"domain": [0, 120], "nice": false}, "axis": {"orient": "right", "values": [0,20,40,60,80,100,120], "labels": false, "grid": false, "title": null, "minExtent": 0, "maxExtent": 0}},
        "color": {"field": "tool", "type": "nominal", "scale": {"domain": ["DynamoRIO", "Pin", "Qelt"], "range": ["#7b6a8d", "#fddc6b", "#ffffff"]}}
      }},
     {"data": {"name": "inte"}, "transform": [{"filter": "datum.panel == 'b'"}],
      "mark": {"type": "rule", "color": "black", "strokeWidth": 1.5},
      "encoding": {
        "x": {"field": "bench", "type": "nominal", "scale": {"domain": ["400.perlbench","401.bzip2","403.gcc","429.mcf","445.gobmk","456.hmmer","458.sjeng","462.libquantum","464.h264ref","471.omnetpp","473.astar","483.xalancbmk","INT-geomean"], "paddingInner": 0.25, "paddingOuter": 0.47, "align": 0.69}, "axis": null},
        "xOffset": {"field": "tool", "type": "nominal", "scale": {"domain": ["DynamoRIO", "Pin", "Qelt"], "paddingInner": 0, "paddingOuter": 0}},
        "y": {"field": "lo", "type": "quantitative", "scale": {"domain": [0, 120], "nice": false}, "axis": null},
        "y2": {"field": "hi"}
      }},
     {"data": {"name": "inte"}, "transform": [{"filter": "datum.panel == 'b'"}, {"fold": ["lo", "hi"], "as": ["k", "ev"]}],
      "mark": {"type": "tick", "color": "black", "thickness": 1.5, "size": 10, "orient": "horizontal"},
      "encoding": {
        "x": {"field": "bench", "type": "nominal", "scale": {"domain": ["400.perlbench","401.bzip2","403.gcc","429.mcf","445.gobmk","456.hmmer","458.sjeng","462.libquantum","464.h264ref","471.omnetpp","473.astar","483.xalancbmk","INT-geomean"], "paddingInner": 0.25, "paddingOuter": 0.47, "align": 0.69}, "axis": null},
        "xOffset": {"field": "tool", "type": "nominal", "scale": {"domain": ["DynamoRIO", "Pin", "Qelt"], "paddingInner": 0, "paddingOuter": 0}},
        "y": {"field": "ev", "type": "quantitative", "scale": {"domain": [0, 120], "nice": false}, "axis": null}
      }}
    ]
   },
   {
    "width": 576, "height": 112,
    "title": {"text": "memcount (inlined)"},
    "resolve": {"axis": {"y": "independent"}},
    "layer": [
     {"data": {"values": [{"one": 1}]}, "mark": {"type": "rule", "color": "#b3b3b3", "strokeWidth": 2},
      "encoding": {"y": {"field": "one", "type": "quantitative", "scale": {"domain": [0, 16], "nice": false},
        "axis": {"orient": "left", "values": [0,2,4,6,8,10,12,14,16], "title": "Slowdown", "titlePadding": 6, "labelPadding": 17, "grid": true, "minExtent": 32, "maxExtent": 32}}}},
     {"data": {"name": "int"}, "transform": [{"filter": "datum.panel == 'c'"}, {"fold": ["DynamoRIO", "Pin", "Qelt"], "as": ["tool", "slowdown"]}],
      "mark": {"type": "bar", "stroke": "black", "strokeWidth": 1.5},
      "encoding": {
        "x": {"field": "bench", "type": "nominal", "scale": {"domain": ["400.perlbench","401.bzip2","403.gcc","429.mcf","445.gobmk","456.hmmer","458.sjeng","462.libquantum","464.h264ref","471.omnetpp","473.astar","483.xalancbmk","INT-geomean"], "paddingInner": 0.25, "paddingOuter": 0.47, "align": 0.69}, "axis": null},
        "xOffset": {"field": "tool", "type": "nominal", "scale": {"domain": ["DynamoRIO", "Pin", "Qelt"], "paddingInner": 0, "paddingOuter": 0}},
        "y": {"field": "slowdown", "type": "quantitative", "scale": {"domain": [0, 16], "nice": false}, "axis": {"orient": "right", "values": [0,2,4,6,8,10,12,14,16], "labels": false, "grid": false, "title": null, "minExtent": 0, "maxExtent": 0}},
        "color": {"field": "tool", "type": "nominal", "scale": {"domain": ["DynamoRIO", "Pin", "Qelt"], "range": ["#7b6a8d", "#fddc6b", "#ffffff"]}}
      }},
     {"data": {"name": "inte"}, "transform": [{"filter": "datum.panel == 'c'"}],
      "mark": {"type": "rule", "color": "black", "strokeWidth": 1.5},
      "encoding": {
        "x": {"field": "bench", "type": "nominal", "scale": {"domain": ["400.perlbench","401.bzip2","403.gcc","429.mcf","445.gobmk","456.hmmer","458.sjeng","462.libquantum","464.h264ref","471.omnetpp","473.astar","483.xalancbmk","INT-geomean"], "paddingInner": 0.25, "paddingOuter": 0.47, "align": 0.69}, "axis": null},
        "xOffset": {"field": "tool", "type": "nominal", "scale": {"domain": ["DynamoRIO", "Pin", "Qelt"], "paddingInner": 0, "paddingOuter": 0}},
        "y": {"field": "lo", "type": "quantitative", "scale": {"domain": [0, 16], "nice": false}, "axis": null},
        "y2": {"field": "hi"}
      }},
     {"data": {"name": "inte"}, "transform": [{"filter": "datum.panel == 'c'"}, {"fold": ["lo", "hi"], "as": ["k", "ev"]}],
      "mark": {"type": "tick", "color": "black", "thickness": 1.5, "size": 10, "orient": "horizontal"},
      "encoding": {
        "x": {"field": "bench", "type": "nominal", "scale": {"domain": ["400.perlbench","401.bzip2","403.gcc","429.mcf","445.gobmk","456.hmmer","458.sjeng","462.libquantum","464.h264ref","471.omnetpp","473.astar","483.xalancbmk","INT-geomean"], "paddingInner": 0.25, "paddingOuter": 0.47, "align": 0.69}, "axis": null},
        "xOffset": {"field": "tool", "type": "nominal", "scale": {"domain": ["DynamoRIO", "Pin", "Qelt"], "paddingInner": 0, "paddingOuter": 0}},
        "y": {"field": "ev", "type": "quantitative", "scale": {"domain": [0, 16], "nice": false}, "axis": null}
      }}
    ]
   },
   {
    "width": 576, "height": 112,
    "title": {"text": "cachesim"},
    "resolve": {"axis": {"y": "independent"}},
    "layer": [
     {"data": {"values": [{"one": 1}]}, "mark": {"type": "rule", "color": "#b3b3b3", "strokeWidth": 2},
      "encoding": {"y": {"field": "one", "type": "quantitative", "scale": {"domain": [0, 350], "nice": false},
        "axis": {"orient": "left", "values": [0,50,100,150,200,250,300,350], "title": "Slowdown", "titlePadding": 6, "labelPadding": 17, "grid": true, "minExtent": 32, "maxExtent": 32}}}},
     {"data": {"name": "int"}, "transform": [{"filter": "datum.panel == 'd'"}, {"fold": ["DynamoRIO", "Pin", "Qelt"], "as": ["tool", "slowdown"]}],
      "mark": {"type": "bar", "stroke": "black", "strokeWidth": 1.5},
      "encoding": {
        "x": {"field": "bench", "type": "nominal", "scale": {"domain": ["400.perlbench","401.bzip2","403.gcc","429.mcf","445.gobmk","456.hmmer","458.sjeng","462.libquantum","464.h264ref","471.omnetpp","473.astar","483.xalancbmk","INT-geomean"], "paddingInner": 0.25, "paddingOuter": 0.47, "align": 0.69},
          "axis": {"title": null, "ticks": false, "labelAngle": -30, "labelFontSize": 15, "labelPadding": 6, "labelOffset": 9, "labelFontWeight": {"condition": {"test": "indexof(datum.value, 'geomean') >= 0", "value": "bold"}, "value": "normal"}}},
        "xOffset": {"field": "tool", "type": "nominal", "scale": {"domain": ["DynamoRIO", "Pin", "Qelt"], "paddingInner": 0, "paddingOuter": 0}},
        "y": {"field": "slowdown", "type": "quantitative", "scale": {"domain": [0, 350], "nice": false}, "axis": {"orient": "right", "values": [0,50,100,150,200,250,300,350], "labels": false, "grid": false, "title": null, "minExtent": 0, "maxExtent": 0}},
        "color": {"field": "tool", "type": "nominal", "scale": {"domain": ["DynamoRIO", "Pin", "Qelt"], "range": ["#7b6a8d", "#fddc6b", "#ffffff"]}}
      }},
     {"data": {"name": "inte"}, "transform": [{"filter": "datum.panel == 'd'"}],
      "mark": {"type": "rule", "color": "black", "strokeWidth": 1.5},
      "encoding": {
        "x": {"field": "bench", "type": "nominal", "scale": {"domain": ["400.perlbench","401.bzip2","403.gcc","429.mcf","445.gobmk","456.hmmer","458.sjeng","462.libquantum","464.h264ref","471.omnetpp","473.astar","483.xalancbmk","INT-geomean"], "paddingInner": 0.25, "paddingOuter": 0.47, "align": 0.69}},
        "xOffset": {"field": "tool", "type": "nominal", "scale": {"domain": ["DynamoRIO", "Pin", "Qelt"], "paddingInner": 0, "paddingOuter": 0}},
        "y": {"field": "lo", "type": "quantitative", "scale": {"domain": [0, 350], "nice": false}, "axis": null},
        "y2": {"field": "hi"}
      }},
     {"data": {"name": "inte"}, "transform": [{"filter": "datum.panel == 'd'"}, {"fold": ["lo", "hi"], "as": ["k", "ev"]}],
      "mark": {"type": "tick", "color": "black", "thickness": 1.5, "size": 10, "orient": "horizontal"},
      "encoding": {
        "x": {"field": "bench", "type": "nominal", "scale": {"domain": ["400.perlbench","401.bzip2","403.gcc","429.mcf","445.gobmk","456.hmmer","458.sjeng","462.libquantum","464.h264ref","471.omnetpp","473.astar","483.xalancbmk","INT-geomean"], "paddingInner": 0.25, "paddingOuter": 0.47, "align": 0.69}},
        "xOffset": {"field": "tool", "type": "nominal", "scale": {"domain": ["DynamoRIO", "Pin", "Qelt"], "paddingInner": 0, "paddingOuter": 0}},
        "y": {"field": "ev", "type": "quantitative", "scale": {"domain": [0, 350], "nice": false}, "axis": null}
      }}
    ]
   }
  ]
 }
]
}
